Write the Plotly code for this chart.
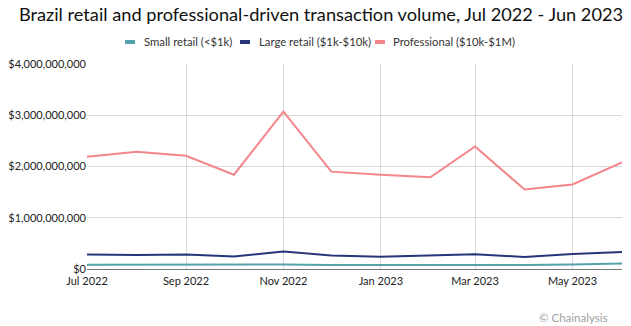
import plotly.graph_objects as go

months = ["2022-07-01", "2022-08-01", "2022-09-01", "2022-10-01", "2022-11-01", "2022-12-01",
          "2023-01-01", "2023-02-01", "2023-03-01", "2023-04-01", "2023-05-01", "2023-06-01"]
small_retail = [0.085e9, 0.088e9, 0.090e9, 0.080e9, 0.090e9, 0.080e9,
                0.078e9, 0.082e9, 0.085e9, 0.078e9, 0.090e9, 0.105e9]
large_retail = [0.285e9, 0.275e9, 0.285e9, 0.245e9, 0.340e9, 0.265e9,
                0.240e9, 0.265e9, 0.290e9, 0.235e9, 0.295e9, 0.330e9]
professional = [2.19e9, 2.29e9, 2.21e9, 1.84e9, 3.07e9, 1.90e9,
                1.84e9, 1.79e9, 2.39e9, 1.55e9, 1.65e9, 2.08e9]

series_names = ["Small retail (<$1k)", "Large retail ($1k-$10k)", "Professional ($10k-$1M)"]
series_values = [small_retail, large_retail, professional]
colors = ["#55a2ad", "#27367a", "#f4868b"]

y_tick_vals = [0, 1e9, 2e9, 3e9, 4e9]
y_tick_text = ["$0", "$1,000,000,000", "$2,000,000,000", "$3,000,000,000", "$4,000,000,000"]

FONT = "Lato"
W, H = 631, 326
ML, MR, MT, MB = 87, 9, 64, 57
PW, PH = W - ML - MR, H - MT - MB


def px_x(p):
    return (p - ML) / PW


def px_y(p):
    return (H - MB - p) / PH


fig = go.Figure()
for name, vals, col in zip(series_names, series_values, colors):
    fig.add_trace(go.Scatter(x=months, y=vals, mode="lines", name=name,
                             line=dict(color=col, width=2), showlegend=False))

# custom legend (swatch + label), laid out like the reference
legend_swatch_px = [125, 240, 375]
legend_text_px = [142, 257, 391]
legend_y_px = 42
for name, col, sx, tx in zip(series_names, colors, legend_swatch_px, legend_text_px):
    fig.add_shape(type="rect", xref="paper", yref="paper",
                  x0=px_x(sx), x1=px_x(sx + 10),
                  y0=px_y(legend_y_px + 2), y1=px_y(legend_y_px - 2),
                  fillcolor=col, line=dict(width=0))
    fig.add_annotation(text=name, xref="paper", yref="paper", x=px_x(tx), y=px_y(legend_y_px),
                       xanchor="left", yanchor="middle", showarrow=False,
                       font=dict(size=11.3, color="#333", family=FONT))

fig.update_layout(
    width=W, height=H,
    margin=dict(l=ML, r=MR, t=MT, b=MB),
    paper_bgcolor="white", plot_bgcolor="white",
    font=dict(family=FONT, color="#222", size=11),
    title=dict(text="Brazil retail and professional-driven transaction volume, Jul 2022 - Jun 2023",
               x=321 / W, xanchor="center", y=0.955, yanchor="middle",
               font=dict(size=18.2, family=FONT, color="#111")),
    showlegend=False,
)
fig.update_xaxes(type="date", range=["2022-07-01", "2023-06-01"], dtick="M2",
                 tick0="2022-07-01", tickformat="%b %Y", showgrid=True,
                 gridcolor="#d9d9d9", gridwidth=1, showline=True, linecolor="#777",
                 linewidth=1, ticks="", tickfont=dict(size=11, color="#222"),
                 ticklabelstandoff=2, zeroline=False)
fig.update_yaxes(range=[0, 4e9], tickvals=y_tick_vals, ticktext=y_tick_text,
                 showgrid=True, gridcolor="#d9d9d9", gridwidth=1, zeroline=False,
                 showline=False, ticks="", tickfont=dict(size=11, color="#222"))

fig.add_annotation(text="© Chainalysis", xref="paper", yref="paper", x=px_x(609), y=px_y(317),
                   xanchor="right", yanchor="middle", showarrow=False,
                   font=dict(size=11.5, color="#a0a0a0", family=FONT))

fig.write_html("out.html")
